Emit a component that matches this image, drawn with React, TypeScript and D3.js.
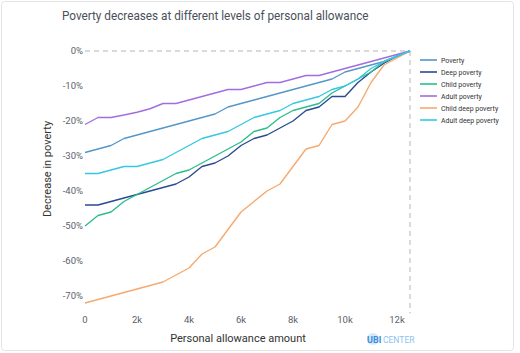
import React, { useEffect, useRef } from "react";
import * as d3 from "d3";

const allowance = [0, 500, 1000, 1500, 2000, 2500, 3000, 3500, 4000, 4500, 5000, 5500, 6000, 6500, 7000, 7500, 8000, 8500, 9000, 9500, 10000, 10500, 11000, 11500, 12000, 12500];

const poverty = [-29, -28, -27, -25, -24, -23, -22, -21, -20, -19, -18, -16, -15, -14, -13, -12, -11, -10, -9, -8, -6, -5, -4, -3, -1.5, 0];
const deepPoverty = [-44, -44, -43, -42, -41, -40, -39, -38, -36, -33, -32, -30, -27, -25, -24, -22, -20, -17, -16, -13, -13, -9, -6, -3.5, -1.5, 0];
const childPoverty = [-50, -47, -46, -43, -41, -39, -37, -35, -34, -32, -30, -28, -26, -23, -22, -19, -17, -16, -15, -12, -10, -8, -6, -3, -1.5, 0];
const adultPoverty = [-21, -19, -19, -18.3, -17.5, -16.5, -15, -15, -14, -13, -12, -11, -11, -10, -9, -9, -8, -7, -7, -6, -5, -4, -3, -2, -1, 0];
const childDeepPoverty = [-72, -71, -70, -69, -68, -67, -66, -64, -62, -58, -56, -51, -46, -43, -40, -38, -33, -28, -27, -21, -20, -16, -9, -4, -2, 0];
const adultDeepPoverty = [-35, -35, -34, -33, -33, -32, -31, -29, -27, -25, -24, -23, -21, -19, -18, -17, -15, -14, -13, -11, -10, -8, -5, -3, -1.5, 0];

const seriesNames = ["Poverty", "Deep poverty", "Child poverty", "Adult poverty", "Child deep poverty", "Adult deep poverty"];
const seriesValues = [poverty, deepPoverty, childPoverty, adultPoverty, childDeepPoverty, adultDeepPoverty];
const seriesColors = ["#5596c8", "#2b4a92", "#2dbd8e", "#a16de0", "#f6a96e", "#35c8df"];

const xTicks = [0, 2000, 4000, 6000, 8000, 10000, 12000];
const yTicks = [0, -10, -20, -30, -40, -50, -60, -70];

const title = "Poverty decreases at different levels of personal allowance";
const xTitle = "Personal allowance amount";
const yTitle = "Decrease in poverty";

export default function App() {
  const ref = useRef<SVGSVGElement>(null);

  useEffect(() => {
    const svg = d3.select(ref.current);
    svg.selectAll("*").remove();
    const W = 520, H = 353;
    const font = "Roboto, 'Noto Sans', sans-serif";

    svg.append("rect").attr("x", 1.5).attr("y", 1.5).attr("width", W - 8).attr("height", H - 4)
      .attr("rx", 3).attr("fill", "#fff").attr("stroke", "#e4e4e4");

    const x = d3.scaleLinear().domain([0, 12500]).range([85, 410]);
    const y = d3.scaleLinear().domain([-75, 0]).range([313.5, 51]);

    svg.append("text").attr("transform", "translate(62,20) scale(0.87,1)").attr("font-family", font).attr("font-size", 13.5)
      .attr("fill", "#4a505a").text(title);

    // zero line
    svg.append("line").attr("x1", x(0)).attr("x2", x(12500)).attr("y1", y(0)).attr("y2", y(0))
      .attr("stroke", "#b5b5b5").attr("stroke-width", 1).attr("stroke-dasharray", "5,4");
    svg.append("line").attr("x1", x(12500)).attr("x2", x(12500)).attr("y1", y(0)).attr("y2", y(-75))
      .attr("stroke", "#b5b5b5").attr("stroke-width", 1).attr("stroke-dasharray", "5,4");

    const yAxis = svg.append("g");
    yAxis.selectAll("text").data(yTicks).enter().append("text")
      .attr("x", 83).attr("y", (d) => y(d)).attr("dy", "0.35em").attr("text-anchor", "end")
      .attr("font-family", font).attr("font-size", 9.5).attr("fill", "#5a5f6b")
      .text((d) => `${d}%`);

    const xAxis = svg.append("g");
    xAxis.selectAll("text").data(xTicks).enter().append("text")
      .attr("x", (d) => x(d)).attr("y", 323).attr("text-anchor", "middle")
      .attr("font-family", font).attr("font-size", 9.5).attr("fill", "#5a5f6b")
      .text((d) => (d === 0 ? "0" : `${d / 1000}k`));

    svg.append("text").attr("x", 238).attr("y", 342).attr("text-anchor", "middle")
      .attr("font-family", font).attr("font-size", 11).attr("fill", "#333").text(xTitle);

    svg.append("text").attr("transform", `translate(51,169) rotate(-90)`).attr("text-anchor", "middle")
      .attr("font-family", font).attr("font-size", 11).attr("fill", "#333").text(yTitle);

    const line = d3.line<number>().x((_, i) => x(allowance[i])).y((d) => y(d));
    seriesValues.forEach((vals, i) => {
      svg.append("path").attr("d", line(vals) as string).attr("fill", "none")
        .attr("stroke", seriesColors[i]).attr("stroke-width", 1.4).attr("stroke-linejoin", "round");
    });

    const leg = svg.append("g");
    seriesNames.forEach((n, i) => {
      const ly = 60 + i * 12;
      leg.append("line").attr("x1", 420).attr("x2", 437).attr("y1", ly).attr("y2", ly)
        .attr("stroke", seriesColors[i]).attr("stroke-width", 1.6);
      leg.append("text").attr("transform", `translate(441,${ly}) scale(0.87,1)`).attr("dy", "0.35em")
        .attr("font-family", font).attr("font-size", 8).attr("fill", "#333").text(n);
    });

    // logo
    svg.append("circle").attr("cx", 373).attr("cy", 339).attr("r", 6).attr("fill", "#d6e9fb");
    svg.append("text").attr("x", 367).attr("y", 342.5).attr("font-family", font).attr("font-size", 9)
      .attr("font-weight", "bold").attr("fill", "#3a8fd9").text("UBI");
    svg.append("text").attr("x", 383).attr("y", 342.5).attr("font-family", font).attr("font-size", 8.5)
      .attr("fill", "#8ec3ef").text("CENTER");
  }, []);

  return (
    <svg ref={ref} width={520} height={353} style={{ position: "absolute", left: 0, top: 0, background: "#fff" }} />
  );
}
